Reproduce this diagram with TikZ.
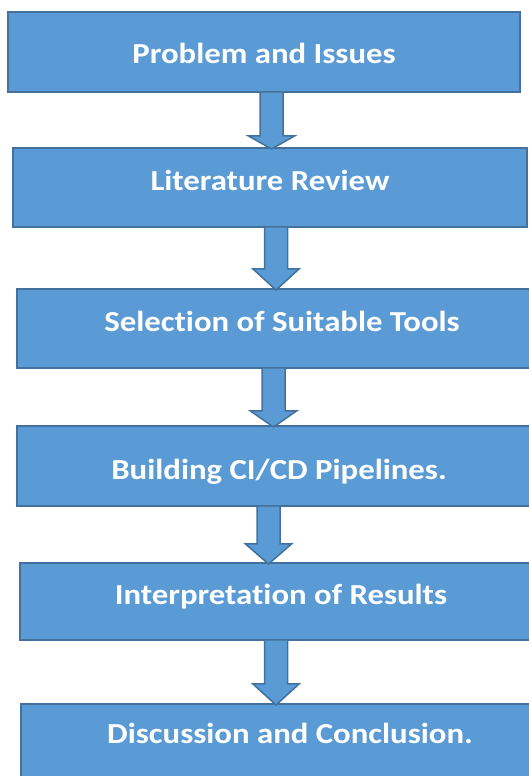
\documentclass[tikz,border=0pt]{standalone}
\usepackage{fontspec}
\setmainfont{Carlito}[FakeStretch=1.13, Ligatures={NoCommon}]
\usetikzlibrary{calc}

\definecolor{stagefill}{HTML}{5B9BD5}
\definecolor{stageline}{HTML}{41719C}

% block arrow from the bottom of #1 to the top of #2, shaft centred at x=#3, head #4 long
\newcommand{\stagearrow}[4]{%
	\path[flow] let \p1=(#1.south), \p2=(#2.north) in
		(#3pt-11.5pt,\y1+1pt) -- (#3pt+11.5pt,\y1+1pt) -- (#3pt+11.5pt,\y2+#4pt)
		-- (#3pt+23pt,\y2+#4pt) -- (#3pt,\y2-2pt) -- (#3pt-23pt,\y2+#4pt)
		-- (#3pt-11.5pt,\y2+#4pt) -- cycle;}

\begin{document}
\begin{tikzpicture}[x=1pt,y=1pt,
	stage/.style={rectangle, draw=stageline, fill=stagefill, line width=2pt, inner sep=0pt,
		minimum height=79pt, text=white, font=\bfseries\fontsize{29}{34}\selectfont,
		text height=18.3pt, text depth=0pt},
	flow/.style={draw=stageline, fill=stagefill, line width=1.5pt}]
	\useasboundingbox (0,0) rectangle (529,776);
	\clip (0,0) rectangle (529,776);

	\node (problem)		at (264,724) [stage, minimum width=512pt, minimum height=80pt, text height=23.3pt] {Problem and Issues};
	\node (review)		at (270,588.5) [stage, minimum width=514pt, text depth=12pt] {Literature Review};
	\node (tools)		at (282,447.5) [stage, minimum width=531pt, text depth=13pt] {Selection of Suitable Tools};
	\node (pipelines)	at (279,310) [stage, minimum width=524pt, minimum height=80pt, text height=26.3pt] {Building CI/CD Pipelines.};
	\node (results)		at (281,174.5) [stage, minimum width=522pt, minimum height=77pt, text depth=12pt] {Interpretation of Results};
	\node (conclusion)	at (290,32) [stage, minimum width=538pt, minimum height=80pt, text depth=20pt] {Discussion and Conclusion.};

	\stagearrow{problem}{review}{271.5}{11}
	\stagearrow{review}{tools}{276}{19}
	\stagearrow{tools}{pipelines}{273.5}{14}
	\stagearrow{pipelines}{results}{268.5}{18}
	\stagearrow{results}{conclusion}{276}{19}
\end{tikzpicture}
\end{document}
